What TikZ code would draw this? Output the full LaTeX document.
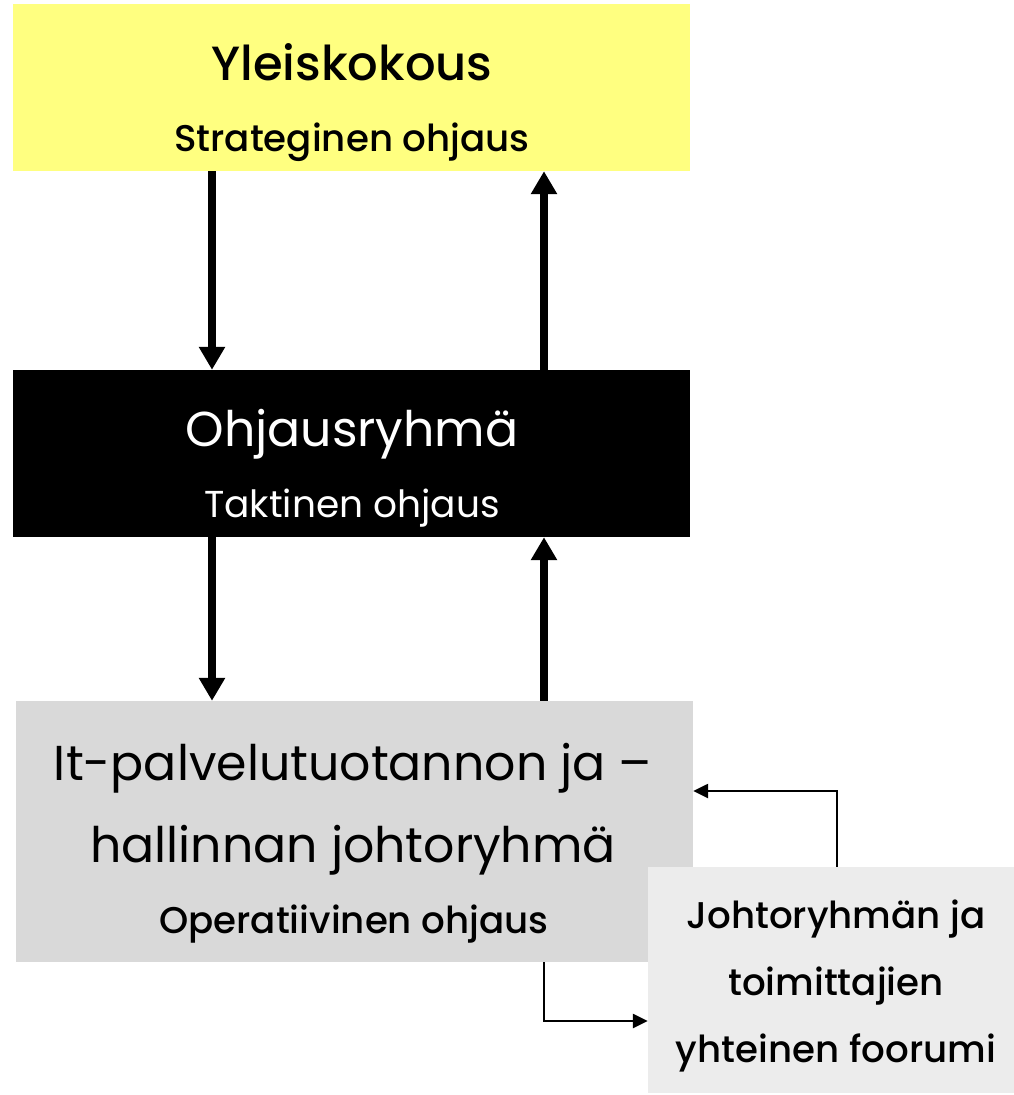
\documentclass[tikz,border=0pt]{standalone}
\usepackage{fontspec}
\setmainfont{Poppins}
\newfontfamily\medfont{Poppins Medium}
\usetikzlibrary{arrows.meta,positioning}
\definecolor{ykyellow}{HTML}{FFFF80}
\definecolor{jrgrey}{HTML}{D9D9D9}
\definecolor{fogrey}{HTML}{ECECEC}
\tikzset{box/.style={rectangle,inner sep=0pt,draw=none}}
\tikzset{title/.style={anchor=base,inner sep=0pt,font=\fontsize{49}{56}\selectfont}}
\tikzset{subtitle/.style={anchor=base,inner sep=0pt,font=\fontsize{37.5}{42}\selectfont}}
\tikzset{medtext/.style={anchor=base,inner sep=0pt,font=\medfont\fontsize{37.2}{42}\selectfont}}
\tikzset{bigarrow/.style={line width=8pt,-{Triangle[width=25pt,length=23pt]}}}
\tikzset{thinarrow/.style={line width=2.5pt,-{Triangle[width=14pt,length=15pt]}}}

\begin{document}
\begin{tikzpicture}[x=1pt,y=-1pt]
  \useasboundingbox (0,0) rectangle (1014,1095);
  % boxes
  \node [box,fill=ykyellow,minimum width=677pt,minimum height=167pt] (yk) at (351.5,87.5) {};
  \node [box,fill=black,minimum width=677pt,minimum height=167pt] (or) at (351.5,453.5) {};
  \node [box,fill=jrgrey,minimum width=677pt,minimum height=261pt] (jr) at (354.5,831.5) {};
  \node [box,fill=fogrey,minimum width=366pt,minimum height=226pt] (fo) at (831,980) {};
  % texts
  \node [title,font=\medfont\fontsize{48}{56}\selectfont] (yk-t) at (352,80) {Yleiskokous};
  \node [medtext] (yk-s) at (352,151) {Strateginen ohjaus};
  \node [title,text=white] (or-t) at (352,446) {Ohjausryhmä};
  \node [subtitle,text=white] (or-s) at (352,517) {Taktinen ohjaus};
  \node [title] (jr-t1) at (353,780) {It-palvelutuotannon ja –};
  \node [title] (jr-t2) at (353,862) {hallinnan johtoryhmä};
  \node [medtext] (jr-s) at (354,933) {Operatiivinen ohjaus};
  \node [medtext] (fo-1) at (836,928) {Johtoryhmän ja};
  \node [medtext] (fo-2) at (836,995) {toimittajien};
  \node [medtext] (fo-3) at (836,1062) {yhteinen foorumi};
  % connectors
  \coordinate (lx) at (212,0);
  \coordinate (rx) at (544,0);
  \coordinate (fx) at (837,0);
  \coordinate (uy) at (0,791);
  \coordinate (dy) at (0,1021);
  \path[bigarrow]
  (lx |- yk.south) edge (lx |- or.north)
  (rx |- or.north) edge (rx |- yk.south)
  (lx |- or.south) edge (lx |- jr.north)
  (rx |- jr.north) edge (rx |- or.south);
  \draw[thinarrow] (fx |- fo.north) |- (jr.east |- uy);
  \draw[thinarrow] (rx |- jr.south) |- (fo.west |- dy);
\end{tikzpicture}
\end{document}
